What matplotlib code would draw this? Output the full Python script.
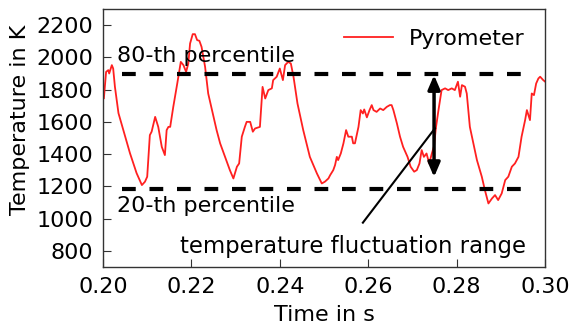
import matplotlib
matplotlib.use("Agg")
import matplotlib.pyplot as plt

# ---- data ----
time_s = [0.2002, 0.2007, 0.2012, 0.2014, 0.2020, 0.2023, 0.2027, 0.2035, 0.2046, 0.2061,
          0.2076, 0.2088, 0.2095, 0.2100, 0.2106, 0.2110, 0.2118, 0.2125, 0.2133, 0.2140,
          0.2144, 0.2148, 0.2152, 0.2159, 0.2168, 0.2176, 0.2182, 0.2188, 0.2193, 0.2197,
          0.2203, 0.2208, 0.2213, 0.2218, 0.2223, 0.2231, 0.2238, 0.2250, 0.2257, 0.2265,
          0.2276, 0.2287, 0.2295, 0.2303, 0.2308, 0.2314, 0.2321, 0.2325, 0.2333, 0.2339,
          0.2344, 0.2355, 0.2361, 0.2367, 0.2374, 0.2382, 0.2385, 0.2393, 0.2397, 0.2400,
          0.2407, 0.2412, 0.2419, 0.2425, 0.2431, 0.2440, 0.2453, 0.2468, 0.2484, 0.2495,
          0.2502, 0.2510, 0.2514, 0.2521, 0.2525, 0.2529, 0.2532, 0.2538, 0.2544, 0.2550,
          0.2555, 0.2563, 0.2566, 0.2570, 0.2578, 0.2583, 0.2588, 0.2591, 0.2597, 0.2603,
          0.2608, 0.2612, 0.2619, 0.2627, 0.2634, 0.2642, 0.2649, 0.2653, 0.2657, 0.2665,
          0.2672, 0.2679, 0.2689, 0.2696, 0.2704, 0.2710, 0.2716, 0.2721, 0.2726, 0.2732,
          0.2738, 0.2744, 0.2749, 0.2753, 0.2759, 0.2766, 0.2774, 0.2781, 0.2789, 0.2796,
          0.2803, 0.2808, 0.2812, 0.2819, 0.2823, 0.2830, 0.2838, 0.2846, 0.2857, 0.2864,
          0.2872, 0.2880, 0.2887, 0.2894, 0.2902, 0.2910, 0.2917, 0.2925, 0.2932, 0.2940,
          0.2947, 0.2955, 0.2959, 0.2966, 0.2970, 0.2975, 0.2980, 0.2985, 0.2989, 0.2996,
          0.3000]
temperature_K = [1747, 1910, 1921, 1900, 1952, 1931, 1817, 1654, 1549, 1406,
                 1282, 1208, 1229, 1260, 1518, 1539, 1631, 1569, 1445, 1394,
                 1549, 1569, 1569, 1693, 1838, 1972, 1952, 1910, 1962, 2086,
                 2144, 2144, 2107, 2103, 2065, 1941, 1776, 1631, 1549, 1467,
                 1383, 1301, 1249, 1322, 1342, 1508, 1569, 1600, 1600, 1539,
                 1559, 1569, 1817, 1745, 1797, 1808, 1859, 1880, 1910, 1931,
                 1859, 1952, 1972, 1962, 1880, 1714, 1549, 1383, 1280, 1218,
                 1229, 1249, 1270, 1301, 1332, 1383, 1363, 1404, 1467, 1549,
                 1508, 1508, 1467, 1467, 1569, 1673, 1652, 1677, 1628, 1673,
                 1704, 1673, 1662, 1683, 1673, 1693, 1704, 1704, 1673, 1590,
                 1508, 1445, 1383, 1322, 1291, 1301, 1342, 1425, 1383, 1404,
                 1342, 1404, 1450, 1560, 1673, 1797, 1808, 1797, 1808, 1797,
                 1849, 1756, 1828, 1818, 1776, 1569, 1467, 1363, 1260, 1177,
                 1094, 1125, 1146, 1115, 1156, 1239, 1260, 1322, 1342, 1383,
                 1508, 1611, 1673, 1611, 1776, 1766, 1838, 1869, 1880, 1859,
                 1850]

p80_K = 1900
p20_K = 1185
x_ticks = [0.20, 0.22, 0.24, 0.26, 0.28, 0.30]
y_ticks = [800, 1000, 1200, 1400, 1600, 1800, 2000, 2200]

FS = 16
plt.rcParams['font.family'] = ['DejaVu Sans']

fig = plt.figure(figsize=(5.71, 3.25), dpi=100)
ax = fig.add_axes([103 / 571, 58 / 325, 442 / 571, 258 / 325])

ax.plot(time_s, temperature_K, color='#ff2020', lw=1.3, label='Pyrometer')

dash_kw = dict(color='black', lw=3, dashes=(3.3, 3.3))
ax.plot([0.2043, 0.2970], [p80_K, p80_K], **dash_kw)
ax.plot([0.2043, 0.2970], [p20_K, p20_K], **dash_kw)

ax.text(0.2032, 1970, '80-th percentile', fontsize=FS, va='baseline', ha='left')
ax.text(0.2031, 1043, '20-th percentile', fontsize=FS, va='baseline', ha='left')
ax.text(0.2175, 786, 'temperature fluctuation range', fontsize=16.4,
        va='baseline', ha='left')

# double arrow showing fluctuation range
ax.annotate('', xy=(0.2749, 1890), xytext=(0.2749, 1258),
            arrowprops=dict(arrowstyle='<|-|>,head_width=0.3,head_length=0.7',
                            lw=2.5, color='black', shrinkA=0, shrinkB=0,
                            mutation_scale=12))
# pointer line to label
ax.plot([0.2588, 0.2751], [975, 1560], color='black', lw=1.5)

ax.set_xlim(0.20, 0.30)
ax.set_ylim(700, 2300)
ax.set_xticks(x_ticks)
ax.set_xticklabels([f'{v:.2f}' for v in x_ticks])
ax.set_yticks(y_ticks)
ax.tick_params(direction='in', length=6, width=0.8, labelsize=FS, colors='#333333',
               labelcolor='black', pad=7)
for sp in ax.spines.values():
    sp.set_color('#333333')
    sp.set_linewidth(1.0)

ax.set_xlabel('Time in s', fontsize=FS, labelpad=6)
ax.set_ylabel('Temperature in K', fontsize=FS)
ax.yaxis.set_label_coords(-0.166, 0.57)

leg = ax.legend(loc='upper right', frameon=False, fontsize=FS, handlelength=2.2,
                handletextpad=0.75)

fig.savefig('out.png', dpi=100)
